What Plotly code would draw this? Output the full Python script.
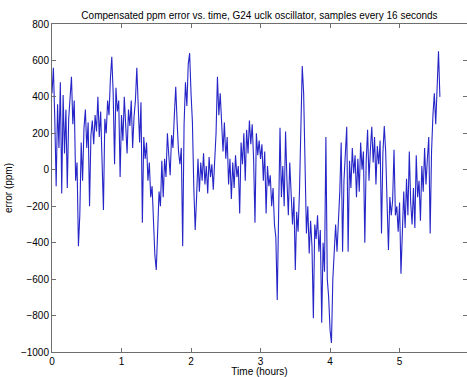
import plotly.graph_objects as go

# samples thinned to one value every 0.02 hours (ppm error)
step_hours = 0.02
error_ppm = [
    420, 560, 280, -90, 360, 120, 480, -130, 410, 90,
    330, -100, 280, 420, 510, 250, 380, -60, 40, -420,
    -250, 150, -60, 230, 330, 120, 260, -200, 190, 270,
    140, 300, 210, 400, 180, 320, 20, -220, 280, 200,
    380, 300, 500, 620, 420, 30, 450, 320, 380, -40,
    300, 160, 400, 220, 90, 330, 240, 380, 120, 290,
    380, 560, 320, 150, 370, -290, 180, 60, 150, -60,
    40, -150, -90, -320, -470, -550, -380, -120, -200, 50,
    -150, 60, -40, 200, 80, -30, 190, 120, 300, 456,
    260, 100, 30, 120, -420, 250, 480, 350, 580, 640,
    420, 260, -100, -330, -150, 60, -120, 40, -60, 90,
    -80, 20, -130, 70, -40, 30, -110, 60, 200, 510,
    300, 420, 230, 100, 260, 60, 180, -80, 60, -160,
    40, -100, 80, -40, 20, -240, 150, 30, 200, -60,
    220, 90, 270, 140, 250, 60, -290, 200, 80, 160,
    60, 140, -60, 100, -240, 20, -90, -30, -200, -100,
    -300, -370, -714, -250, 230, -150, 20, -200, 210, -60,
    -250, 40, -180, -300, -150, -550, -230, -340, -120, 300,
    570, 420, -100, -350, -200, -460, -280, -420, -815, -300,
    -380, -250, -450, -330, -840, -400, -560, 180, -600, -700,
    -880, -950, -600, -420, -300, -450, -280, -120, 150, -450,
    -60, 100, 236, -450, 50, -100, 120, -20, 80, -150,
    60, -120, 150, 0, 100, -400, 50, 220, -60, 110,
    236, 40, 180, -80, 130, 30, 160, -350, 90, 240,
    100, -180, -440, -150, -250, -170, 110, -250, -200, -340,
    -180, -570, -280, -120, -320, -50, -250, 100, -180, -300,
    -100, -320, 80, -150, -60, -280, 20, -120, 120, -80,
    60, 180, -350, 100, 300, 420, 250, 520, 650, 400,
]
time_hours = [i * step_hours for i in range(len(error_ppm))]

x_ticks = [0, 1, 2, 3, 4, 5]
y_ticks = [-1000, -800, -600, -400, -200, 0, 200, 400, 600, 800]

fig = go.Figure()
fig.add_trace(go.Scatter(x=time_hours, y=error_ppm, mode='lines',
                         line={'color': '#2626c8', 'width': 1.1}))

axis_style = dict(showline=True, linecolor='#6e6e6e', linewidth=1, mirror='ticks',
                  ticks='inside', ticklen=4, tickcolor='#6e6e6e',
                  showgrid=False, zeroline=False, automargin=False,
                  tickfont={'size': 10, 'color': 'black'})

fig.update_xaxes(range=[0, 5.97], tickvals=x_ticks, **axis_style,
                 title={'text': 'Time (hours)', 'font': {'size': 10}, 'standoff': 1})
fig.update_yaxes(range=[-1000, 800], tickvals=y_ticks, **axis_style,
                 title={'text': 'error (ppm)', 'font': {'size': 10}, 'standoff': 6})

fig.update_layout(width=467, height=377,
                  title={'text': 'Compensated ppm error vs. time, G24 uclk oscillator, samples every 16 seconds',
                         'x': 0.5, 'xref': 'paper', 'y': 0.968, 'font': {'size': 10, 'color': 'black'}},
                  font={'family': 'Liberation Sans, Arial', 'size': 10, 'color': 'black'},
                  plot_bgcolor='white', paper_bgcolor='white',
                  showlegend=False,
                  margin={'l': 52, 'r': 0, 't': 24, 'b': 25})

fig.write_html("out.html", config={'displayModeBar': False},
               post_script="document.body.style.margin='0';")
